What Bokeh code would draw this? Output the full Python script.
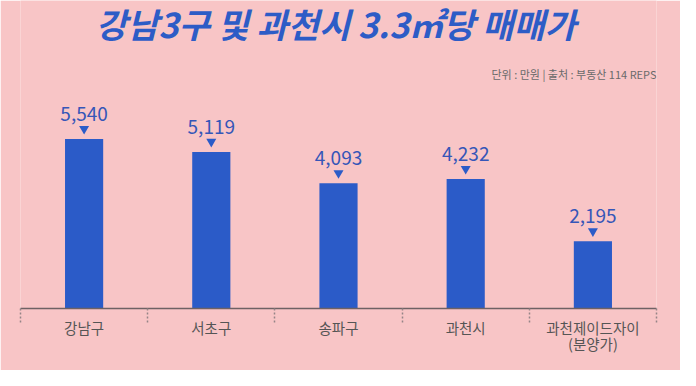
from bokeh.plotting import figure
from bokeh.models import ColumnDataSource, Range1d, FixedTicker, Label
from bokeh.transform import dodge
from bokeh.core.properties import value
from bokeh.embed import file_html
from bokeh.resources import INLINE

categories = ["강남구", "서초구", "송파구", "과천시", "과천제이드자이\n(분양가)"]
prices = [5540, 5119, 4093, 4232, 2195]
title_text = "강남3구 및 과천시 3.3㎡당 매매가"
source_text = "단위 : 만원 | 출처 : 부동산 114 REPS"

BG = "#F8C5C6"
BAR = "#2B5BC8"
LABEL_BLUE = "#3556B8"
FONT = "Noto Sans CJK KR"

Y_END = 10070
xs = [i + 0.5 for i in range(len(categories))]

src = ColumnDataSource(dict(
    x=xs,
    y=prices,
    lbl=[f"{v:,}" for v in prices],
))

p = figure(width=680, height=370, output_backend="svg", toolbar_location=None,
           x_range=Range1d(0, len(categories)), y_range=Range1d(0, Y_END),
           min_border_left=20, min_border_right=24, min_border_top=0,
           min_border_bottom=62)
p.background_fill_color = BG
p.border_fill_color = BG
p.outline_line_color = None
p.grid.visible = False
p.yaxis.visible = False

p.vbar(x="x", top="y", width=0.3, bottom=0, source=src, color=BAR, line_color=None)
p.scatter(x="x", y=dodge("y", 335, range=p.y_range), source=src, marker="inverted_triangle",
          size=10, color=BAR, line_color=None)
p.text(x="x", y="y", text="lbl", source=src, y_offset=-25, text_align="center",
       text_baseline="alphabetic", text_color=LABEL_BLUE, text_font_size="19px",
       text_font=value(FONT))

ax = p.xaxis[0]
ax.ticker = FixedTicker(ticks=xs, minor_ticks=list(range(len(categories) + 1)))
ax.major_label_overrides = {x: c for x, c in zip(xs, categories)}
ax.axis_line_color = "#6E6264"
ax.axis_line_width = 1.3
ax.major_tick_line_color = None
ax.major_tick_out = 0
ax.major_tick_in = 0
ax.minor_tick_line_color = "#958587"
ax.minor_tick_line_width = 1.5
ax.minor_tick_line_dash = "0 11 2 2 2 2 2 2 2 2 2 2"
ax.minor_tick_out = 25
ax.minor_tick_in = 0
ax.major_label_standoff = -17
ax.major_label_text_font = FONT
ax.major_label_text_font_size = "14.5px"
ax.major_label_text_line_height = 0.8
ax.major_label_text_color = "#555555"

p.add_layout(Label(x=2.48, y=9320, text=title_text, text_align="center",
                   text_baseline="middle", text_font=FONT, text_font_size="34px",
                   text_font_style="bold italic", text_color="#2D5CC6"))
p.add_layout(Label(x=5.0, y=7659, text=source_text, text_align="right",
                   text_baseline="middle", text_font=FONT, text_font_size="11px",
                   text_color="#6A6A6A"))

open("out.html", "w").write(file_html(p, INLINE))
